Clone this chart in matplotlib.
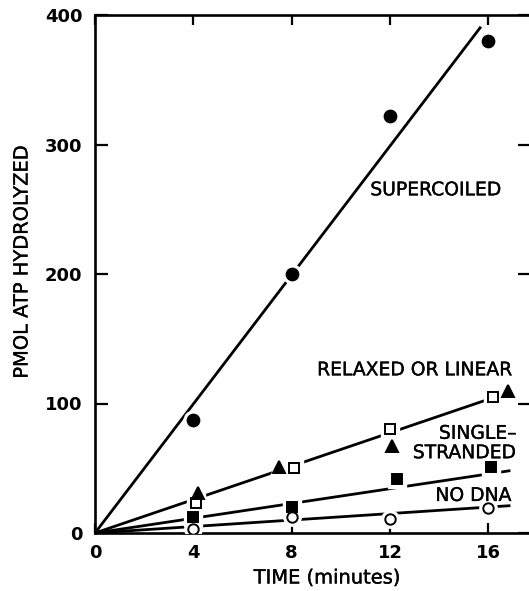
import numpy as np
import matplotlib
matplotlib.use("Agg")
import matplotlib.pyplot as plt
import matplotlib.patheffects as pe

# *** DATA
TIME_TICKS = [0, 4, 8, 12, 16]
ATP_TICKS = [0, 100, 200, 300, 400]

supercoiled_t = [4, 8, 12, 16]
supercoiled_atp = [87, 200, 322, 380]

relaxed_t = [4.1, 8.1, 12.0, 16.2]          # open squares
relaxed_atp = [23, 50, 80, 105]

linear_t = [4.2, 7.5, 12.1, 16.8]           # filled triangles
linear_atp = [31, 51, 67, 110]

single_t = [4.0, 8.0, 12.3, 16.1]           # filled squares
single_atp = [12, 20, 42, 51]

nodna_t = [4.0, 8.0, 12.0, 16.0]            # open circles
nodna_atp = [3, 12, 11, 19]

# fitted rates (pmol / min) and how far each drawn line runs
fit_slopes = {"supercoiled": 24.9, "relaxed": 6.45, "single": 2.85, "nodna": 1.25}
fit_ends = {"supercoiled": 15.7, "relaxed": 15.9, "single": 16.9, "nodna": 16.9}

plt.rcParams["font.family"] = ["DejaVu Sans"]

fig = plt.figure(figsize=(5.29, 5.91), dpi=100)
ax = fig.add_axes([95 / 529, 58 / 591, 1 - 95 / 529 + 0.002, 518 / 591])

# fitted lines
for key in fit_slopes:
  xs = np.array([0, fit_ends[key]])
  ax.plot(xs, fit_slopes[key] * xs, color="black", lw=2.0, solid_capstyle="butt", zorder=2)

def points(x, y, marker, filled, ms):
  # white halo first so the line looks broken round each symbol
  ax.plot(x, y, linestyle="none", marker=marker, ms=ms + 5, color="white", zorder=3)
  ax.plot(x, y, linestyle="none", marker=marker, ms=ms,
          markerfacecolor="black" if filled else "white",
          markeredgecolor="black", markeredgewidth=1.4, zorder=4)

points(supercoiled_t, supercoiled_atp, "o", True, 8.5)
points(relaxed_t, relaxed_atp, "s", False, 7.5)
points(linear_t, linear_atp, "^", True, 8.5)
points(single_t, single_atp, "s", True, 7.5)
points(nodna_t, nodna_atp, "o", False, 7.5)

ax.set_xlim(0, 17.7)
ax.set_ylim(0, 400)
ax.set_xticks(TIME_TICKS)
ax.set_yticks(ATP_TICKS)
ax.tick_params(axis="both", direction="in", width=1.6,
               labelsize=13, top=True, right=True)
ax.tick_params(axis="y", pad=9, length=9)
ax.tick_params(axis="x", pad=8, length=7)
for lab in ax.get_xticklabels() + ax.get_yticklabels():
  lab.set_fontweight("bold")
for sp in ax.spines.values():
  sp.set_linewidth(1.9)

# slightly heavier strokes, like the old typeset labels
heavy = [pe.withStroke(linewidth=0.25, foreground="black")]
txt = dict(fontsize=13.5, color="black", zorder=5, path_effects=heavy)
ax.text(11.2, 265, "SUPERCOILED", ha="left", va="center", **txt)
ax.text(17.0, 126, "RELAXED OR LINEAR", ha="right", va="center", **txt)
ax.text(17.15, 77, "SINGLE\u2013", ha="right", va="center", **txt)
ax.text(17.15, 62, "STRANDED", ha="right", va="center", **txt)
ax.text(16.95, 29, "NO DNA", ha="right", va="center", **txt)

fig.text(327 / 529, 1 - 578 / 591, "TIME (minutes)", ha="center", va="center",
         fontsize=14, path_effects=heavy)
fig.text(22 / 529, 1 - 262 / 591, "PMOL ATP HYDROLYZED", ha="center", va="center",
         rotation=90, fontsize=14, path_effects=heavy)

fig.savefig("out.png", dpi=100)
